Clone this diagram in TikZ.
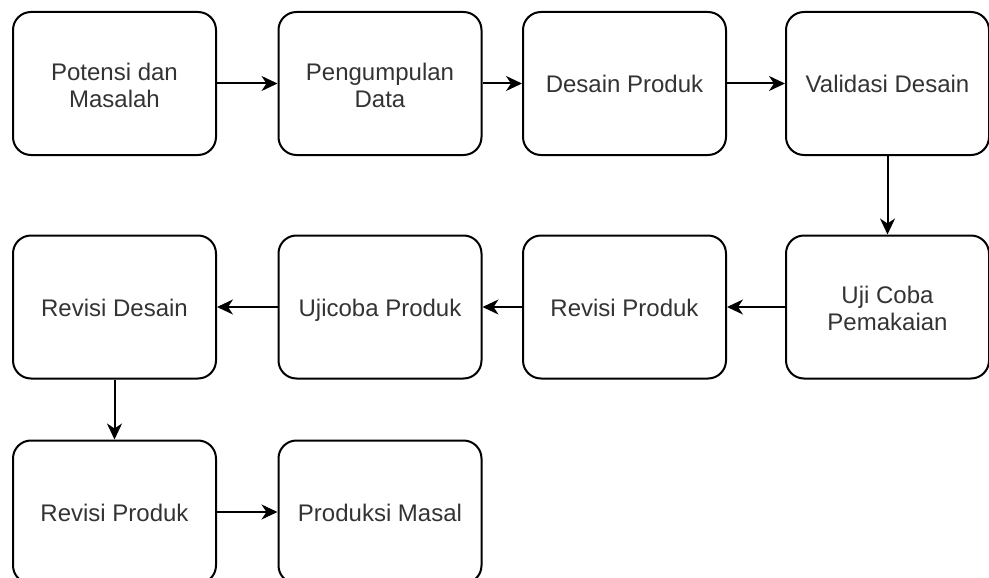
\documentclass[tikz,border=0pt]{standalone}
\usepackage{fontspec}
\setmainfont{Liberation Sans}
\usetikzlibrary{arrows.meta}
\definecolor{txt}{HTML}{333333}
\newcommand{\boxstrut}{\rule[-6pt]{0pt}{30pt}}
\newcommand{\twolines}[2]{\raisebox{-2pt}[0pt][0pt]{\begin{tabular}{@{}c@{}}#1\\#2\end{tabular}}}
\tikzset{
  box/.style={draw=black, line width=2pt, rounded corners=18pt, minimum width=203pt, minimum height=143pt,
    inner sep=0pt, align=center, text=txt, font=\fontsize{24pt}{27pt}\selectfont,
    execute at begin node=\boxstrut, execute at end node=\boxstrut},
  conn/.style={draw=black, line width=2pt, -{Stealth[length=16pt,width=15pt,inset=5pt]}}
}
\begin{document}
\begin{tikzpicture}[x=1pt,y=-1pt]
\useasboundingbox (0,0) rectangle (989,578);
\clip (0,0) rectangle (989,578);
\node[box] (a1) at (114.5,83.5) {\twolines{Potensi dan}{Masalah}};
\node[box] (a2) at (380,83.5) {\twolines{Pengumpulan}{Data}};
\node[box] (a3) at (624.5,83.5) {Desain Produk};
\node[box] (a4) at (887.5,83.5) {Validasi Desain};
\node[box] (b4) at (887.5,307) {\twolines{Uji Coba}{Pemakaian}};
\node[box] (b3) at (624.5,307) {Revisi Produk};
\node[box] (b2) at (380,307) {Ujicoba Produk};
\node[box] (b1) at (114.5,307) {Revisi Desain};
\node[box] (c1) at (114.5,512) {Revisi Produk};
\node[box] (c2) at (380,512) {Produksi Masal};
\draw[conn] (a1) -- (a2);
\draw[conn] (a2) -- (a3);
\draw[conn] (a3) -- (a4);
\draw[conn] (a4) -- (b4);
\draw[conn] (b4) -- (b3);
\draw[conn] (b3) -- (b2);
\draw[conn] (b2) -- (b1);
\draw[conn] (b1) -- (c1);
\draw[conn] (c1) -- (c2);
\end{tikzpicture}
\end{document}
